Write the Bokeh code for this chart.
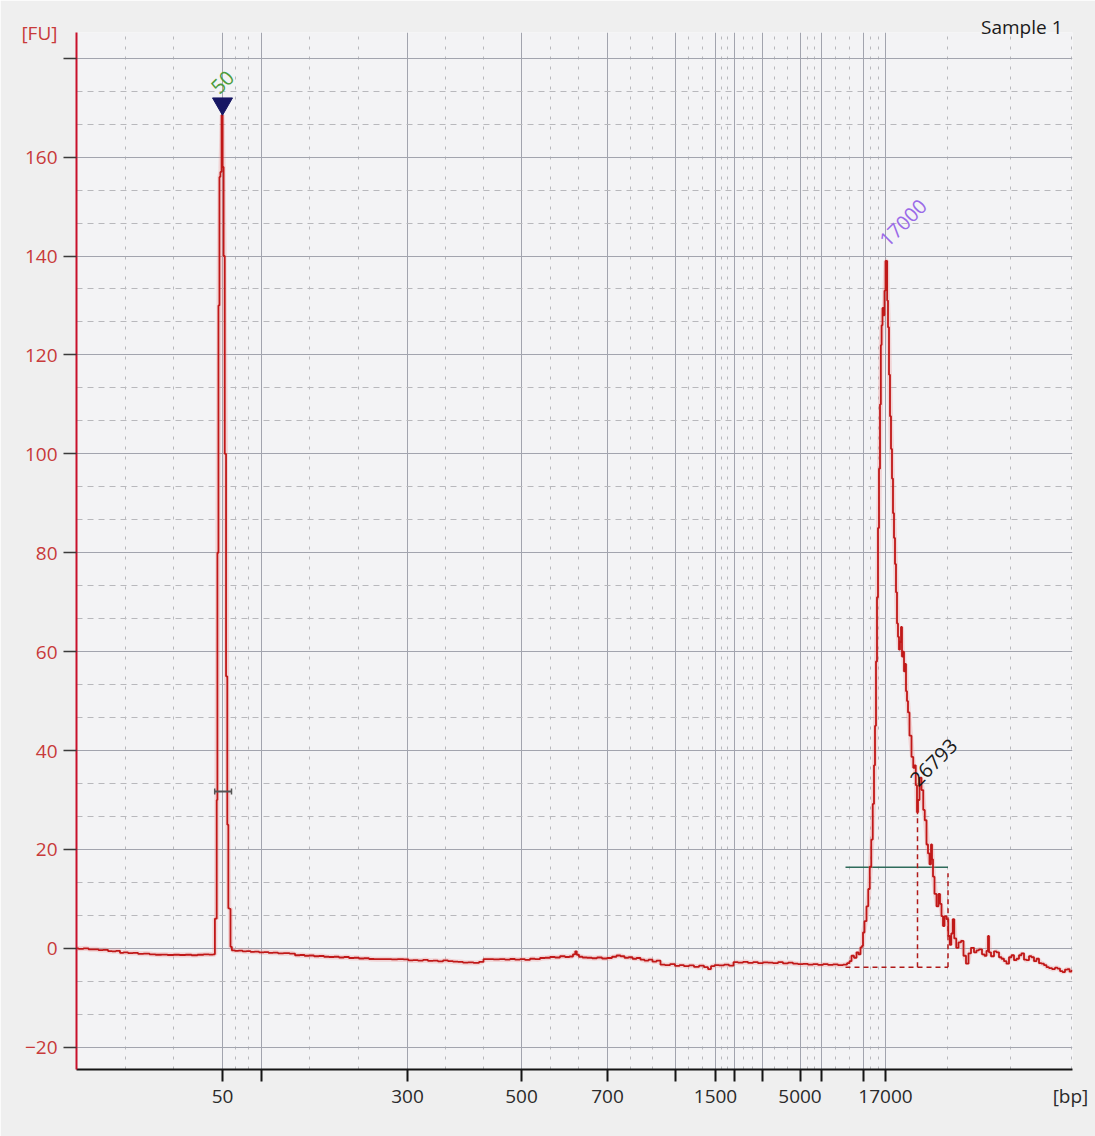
from bokeh.plotting import figure
from bokeh.models import (CustomLabelingPolicy, FixedTicker, Label, LinearAxis,
                          Range1d, Title)
from bokeh.embed import file_html
from bokeh.resources import INLINE

# ---------------------------------------------------------------------------
# Ladder calibration: fragment size (bp) against migration time (s)
# ---------------------------------------------------------------------------
ladder_bp = [50, 100, 300, 500, 700, 1000, 1500, 2000, 3000, 5000, 7000, 10380, 17000]
ladder_time = [34.6, 38.45, 53.1, 64.5, 73.1, 79.9, 83.9, 85.75, 88.55, 92.35, 94.5, 98.7, 100.9]
labelled_bp = [50, 300, 500, 700, 1500, 5000, 17000]

fu_ticks = [-20, 0, 20, 40, 60, 80, 100, 120, 140, 160, 180]

# Electropherogram trace: migration time (s) and fluorescence (FU)
trace_time = [
    20.0, 20.4, 21.0, 21.4, 22.0, 22.4, 22.9, 23.4, 23.7, 24.2,
    24.5, 24.9, 25.4, 25.9, 26.4, 27.0, 27.6, 28.2, 28.8, 29.4,
    30.0, 30.6, 31.2, 31.8, 32.4, 33.0, 33.5, 33.83,
    33.85, 34.0, 34.04, 34.14, 34.25, 34.34, 34.44, 34.57, 34.66, 34.76,
    34.89, 35.02, 35.14, 35.23, 35.38, 35.42, 35.65,
    36.0, 36.4, 36.8, 37.2, 37.6, 38.0, 38.5, 39.0, 39.4, 39.9,
    40.4, 41.0, 41.6, 42.1, 42.6, 43.0, 43.5, 44.0, 44.5, 45.0,
    45.5, 46.0, 46.5, 47.0, 47.5, 48.0, 48.5, 49.0, 49.5, 50.0,
    50.6, 51.2, 51.8, 52.4, 53.0, 53.4, 53.9, 54.4, 54.9, 55.4,
    55.9, 56.4, 56.9, 57.4, 57.9, 58.4, 58.9, 59.4, 60.0, 60.5,
    60.9, 61.4, 62.0, 62.6, 63.1, 63.6, 64.1, 64.6, 65.1, 65.6,
    66.1, 66.6, 67.1, 67.6, 68.1, 68.6, 69.1, 69.5, 69.8, 69.95,
    70.1, 70.4, 70.8, 71.3, 71.8, 72.3, 72.8, 73.3, 73.8, 74.2,
    74.6, 75.0, 75.4, 75.8, 76.2, 76.6, 77.0, 77.4, 77.8, 78.2,
    78.6, 79.1, 79.6, 80.1, 80.5, 81.0, 81.5, 82.0, 82.5, 83.0,
    83.3, 83.6, 84.0, 84.5, 85.0, 85.5, 85.9, 86.4, 86.9, 87.4,
    87.9, 88.4, 88.9, 89.4, 89.9, 90.4, 90.9, 91.4, 91.9, 92.4,
    92.9, 93.4, 93.9, 94.4, 94.9, 95.4, 95.9, 96.4, 96.9, 97.2,
    97.4, 97.6, 97.9, 98.1, 98.3, 98.5, 98.6, 98.7, 98.9, 99.1,
    99.25, 99.4, 99.55, 99.7, 99.8, 99.9, 100.0, 100.1, 100.2, 100.3,
    100.4, 100.47, 100.55, 100.65, 100.75, 100.85, 100.95, 101.03, 101.1, 101.2,
    101.3, 101.4, 101.5, 101.6, 101.7, 101.8, 101.9, 102.0, 102.1, 102.2,
    102.3, 102.4, 102.5, 102.6, 102.7, 102.8, 102.9, 103.0, 103.1, 103.2,
    103.4, 103.6, 103.75, 103.85, 104.0, 104.1, 104.2, 104.4, 104.6, 104.75,
    104.9, 105.1, 105.2, 105.4, 105.5, 105.6, 105.7, 105.9, 106.1, 106.3,
    106.4, 106.6, 106.7, 106.9, 107.1, 107.25, 107.4, 107.55, 107.7, 107.85,
    108.1, 108.3, 108.6, 108.8, 109.1, 109.3, 109.6, 109.9, 110.1, 110.4,
    110.7, 110.9, 111.1, 111.2, 111.3, 111.6, 111.9, 112.1, 112.4, 112.6,
    112.9, 113.1, 113.4, 113.6, 113.9, 114.1, 114.4, 114.6, 114.9, 115.1,
    115.4, 115.6, 115.9, 116.1, 116.4, 116.6, 116.9, 117.1, 117.4, 117.7,
    118.0, 118.2, 118.5, 118.7, 119.0, 119.2, 119.4, 119.6,
]
trace_fu = [
    0.0, -0.1, 0.0, -0.2, -0.2, -0.35, -0.3, -0.55, -0.6, -0.5,
    -0.9, -0.8, -0.95, -0.9, -1.1, -1.05, -1.2, -1.3, -1.25, -1.35,
    -1.3, -1.35, -1.3, -1.4, -1.3, -1.2, -1.25, -1.2,
    6.0, 6.0, 30, 80, 130, 156, 157, 168.5, 158, 140,
    100, 55, 25, 8.1, 8.0, 0.3, -0.4,
    -0.5, -0.45, -0.6, -0.55, -0.7, -0.65, -0.8, -0.75, -0.9, -0.85,
    -1.0, -0.95, -1.05, -1.4, -1.35, -1.5, -1.45, -1.6, -1.55, -1.7,
    -1.75, -1.7, -1.85, -1.75, -1.95, -1.9, -2.05, -2.0, -2.15, -2.2,
    -2.2, -2.2, -2.25, -2.2, -2.25, -2.45, -2.4, -2.5, -2.35, -2.55,
    -2.5, -2.65, -2.45, -2.6, -2.7, -2.75, -2.9, -2.85, -2.95, -2.75,
    -2.2, -2.2, -2.25, -2.2, -2.3, -2.15, -2.3, -2.2, -2.35, -2.1,
    -2.2, -1.95, -1.9, -1.75, -1.85, -1.6, -1.75, -1.65, -1.2, -0.6,
    -1.3, -1.7, -1.85, -1.9, -2.0, -1.85, -2.05, -1.95, -1.7, -1.45,
    -1.6, -1.9, -1.8, -2.1, -1.95, -2.3, -2.5, -2.3, -2.7, -2.5,
    -3.3, -3.4, -3.2, -3.55, -3.4, -3.6, -3.45, -3.75, -3.5, -3.8,
    -4.2, -3.6, -3.4, -3.45, -3.3, -3.5, -2.8, -2.9, -2.75, -2.95,
    -2.8, -3.0, -2.85, -2.9, -3.0, -2.8, -3.05, -2.9, -3.1, -3.2,
    -3.15, -3.3, -3.2, -3.35, -3.2, -3.35, -3.25, -3.4, -3.3, -3.0,
    -2.6, -1.5, -1.9, -0.8, -1.2, 0.2, 0.5, 3.2, 5.5, 8.5,
    12, 16.5, 22, 29.2, 37, 45, 58, 71, 85, 97,
    110, 122, 126, 129.5, 128, 133, 139, 139, 131, 125.6,
    116, 107.6, 101, 95, 88, 83, 77.7, 72, 65.7, 63,
    60.4, 62, 65, 59, 60, 56, 57.5, 52, 50, 47.7,
    43, 38.7, 36.5, 37, 33, 27.5, 30, 34.5, 32, 28,
    25.9, 21, 19.2, 17, 21, 18, 14.5, 11, 8.5, 11,
    9, 6.5, 4.5, 6.5, 5.9, 2.5, 0.7, 3, 5.9, 2,
    0.1, 1.2, 1.5, -1.5, -3.1, -1.0, 0.1, -0.8, -0.4, -0.2,
    -1.2, -1.5, -0.5, 2.5, -0.8, -1.6, -0.6, -0.8, -1.8, -2.1,
    -2.6, -3.1, -1.8, -1.4, -2.4, -2.1, -1.4, -1.0, -2.3, -2.4,
    -1.6, -1.8, -2.6, -2.1, -3.0, -3.1, -3.4, -3.8, -4.0, -4.2,
    -3.9, -4.1, -4.6, -4.8, -4.3, -4.2, -4.7, -4.5,
]
assert len(trace_time) == len(trace_fu)

# Marker peaks
lower_marker_bp = 50
lower_marker_fu = 168.5
upper_marker_bp = 17000
upper_marker_fu = 139.0
lower_marker_bar_fu = 31.7
lower_marker_bar_time = [33.82, 35.5]

# Smear region
smear_start_time = 96.9
smear_end_time = 107.15
smear_avg_time = 104.1
smear_avg_bp = 26793
smear_avg_fu = 27.5
smear_level_fu = 16.4
smear_floor_fu = -3.8

sample_name = "Sample 1"
x_unit = "[bp]"
y_unit = "[FU]"

# ---------------------------------------------------------------------------
FONT = "Open Sans"
RED = "#c8102a"
LABEL_RED = "#c83a3a"
GRID = "#a2a4ae"
MINOR = "#b8b8bc"

x0, x1 = 20.0, 119.6
y0, y1 = -24.5, 185.2
x_unit_pos = 119.4   # unit caption at the right end of the size axis
y_unit_pos = 185.0   # unit caption at the top of the FU axis

# grid subdivisions: thirds between neighbouring ladder bands / FU ticks
bounds = [x0] + ladder_time + [x1]
x_minor = []
for a, b in zip(bounds[:-1], bounds[1:]):
    x_minor += [a + (b - a) / 3, a + 2 * (b - a) / 3]
x_minor.append(x1 - 0.1)
fu_minor = []
for a in fu_ticks[:-1]:
    fu_minor += [a + 20 / 3, a + 40 / 3]

p = figure(
    width=1095, height=1136,
    x_range=Range1d(x0, x1), y_range=Range1d(y0, y1),
    output_backend="svg", toolbar_location=None,
    min_border_left=76, min_border_right=23,
    min_border_top=32, min_border_bottom=67,
    background_fill_color="#f3f3f5", border_fill_color="#efefef",
    outline_line_color=None,
)

xt = FixedTicker(ticks=ladder_time, minor_ticks=x_minor)
yt = FixedTicker(ticks=fu_ticks, minor_ticks=fu_minor)
p.xgrid.ticker = xt
p.ygrid.ticker = yt
p.xgrid.grid_line_color = GRID
p.ygrid.grid_line_color = GRID
p.xgrid.minor_grid_line_color = MINOR
p.ygrid.minor_grid_line_color = MINOR
p.xgrid.minor_grid_line_dash = "3 7"
p.ygrid.minor_grid_line_dash = "6 5"

# inner axes: axis lines and tick marks only (no labels are drawn)
p.xaxis.ticker = xt
p.yaxis.ticker = yt
for ax in (p.xaxis, p.yaxis):
    ax.major_label_text_font_size = "0px"
    ax.major_label_standoff = 0
    ax.major_label_policy = CustomLabelingPolicy(code="return []")
    ax.minor_tick_line_color = None
    ax.major_tick_in = 0

p.xaxis.axis_line_color = "#151515"
p.xaxis.axis_line_width = 2
p.xaxis.major_tick_line_color = "#151515"
p.xaxis.major_tick_line_width = 2
p.xaxis.major_tick_out = 12

p.yaxis.axis_line_color = RED
p.yaxis.axis_line_width = 2
p.yaxis.major_tick_line_color = "#3a3a3a"
p.yaxis.major_tick_line_width = 1.5
p.yaxis.major_tick_out = 13

# outer axes: tick labels plus the unit captions
x_labels = {t: (str(bp) if bp in labelled_bp else "") for t, bp in zip(ladder_time, ladder_bp)}
x_labels[x_unit_pos] = x_unit
x_label_axis = LinearAxis(
    ticker=FixedTicker(ticks=ladder_time + [x_unit_pos]),
    major_label_overrides=x_labels,
    axis_line_color=None, major_tick_line_color=None, minor_tick_line_color=None,
    major_tick_in=0, major_tick_out=0, major_label_standoff=1,
    major_label_text_font=FONT, major_label_text_font_size="19px",
    major_label_text_color="#2a2a2a",
)
p.add_layout(x_label_axis, "below")

y_labels = {180: "", y_unit_pos: y_unit}
y_label_axis = LinearAxis(
    ticker=FixedTicker(ticks=fu_ticks + [y_unit_pos]),
    major_label_overrides=y_labels,
    axis_line_color=None, major_tick_line_color=None, minor_tick_line_color=None,
    major_tick_in=0, major_tick_out=0, major_label_standoff=6,
    major_label_text_font=FONT, major_label_text_font_size="19px",
    major_label_text_color=LABEL_RED,
)
p.add_layout(y_label_axis, "left")

sample_title = Title(text=sample_name, align="right", offset=10, standoff=0,
                     text_font=FONT, text_font_size="19px", text_font_style="normal",
                     text_color="#1a1a1a")
try:
    sample_title.standoff = -14   # let the caption dip slightly into the frame
except Exception:
    pass
p.add_layout(sample_title, "above")

lower_t = ladder_time[ladder_bp.index(lower_marker_bp)]
upper_t = ladder_time[ladder_bp.index(upper_marker_bp)]

# smear region: level bar, baseline and average-size drop line
p.segment(x0=[smear_start_time], y0=[smear_level_fu], x1=[smear_end_time], y1=[smear_level_fu],
          line_color="#2e6b5b", line_width=1.6)
p.segment(x0=[smear_start_time, smear_avg_time, smear_end_time],
          y0=[smear_floor_fu, smear_floor_fu, smear_floor_fu],
          x1=[smear_end_time, smear_avg_time, smear_end_time],
          y1=[smear_floor_fu, smear_avg_fu, smear_level_fu - 1.2],
          line_color="#b01818", line_width=1.5, line_dash="5 4")

# trace
p.line(trace_time, trace_fu, line_width=5, line_color="#f09090", line_alpha=0.3)
p.step(trace_time, trace_fu, mode="center", line_width=1.8, line_color="#c01818")

# lower marker bar and triangle
p.segment(x0=[lower_marker_bar_time[0]], y0=[lower_marker_bar_fu],
          x1=[lower_marker_bar_time[1]], y1=[lower_marker_bar_fu],
          line_color="#555555", line_width=2)
p.segment(x0=lower_marker_bar_time, y0=[lower_marker_bar_fu - 0.6] * 2,
          x1=lower_marker_bar_time, y1=[lower_marker_bar_fu + 0.6] * 2,
          line_color="#555555", line_width=1.5)
p.scatter([lower_t], [lower_marker_fu + 2.3], marker="inverted_triangle", size=20,
          fill_color="#171763", line_color="#171763")


def peak_label(x, y, text, color):
    p.add_layout(Label(x=x, y=y, text=text, angle=45, angle_units="deg",
                       text_font=FONT, text_font_size="20px", text_color=color,
                       text_align="left", text_baseline="bottom"))


peak_label(lower_t - 0.3, lower_marker_fu + 4.0, str(lower_marker_bp), "#4c9c3c")
peak_label(upper_t + 0.25, upper_marker_fu + 2.6, str(upper_marker_bp), "#9a6ae8")
peak_label(smear_avg_time + 0.1, smear_avg_fu + 5.0, str(smear_avg_bp), "#1a1a1a")

open("out.html", "w").write(file_html(p, INLINE))
